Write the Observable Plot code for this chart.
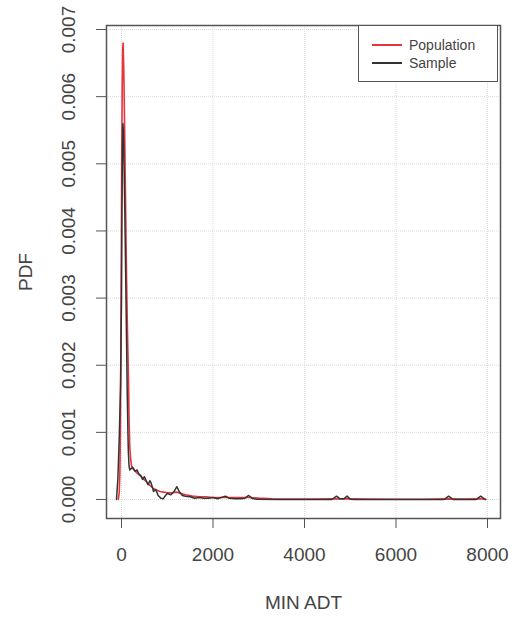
<!DOCTYPE html>
<html>
<head>
<meta charset="utf-8">
<script src="https://cdn.jsdelivr.net/npm/d3@7"></script>
<script src="https://cdn.jsdelivr.net/npm/@observablehq/plot@0.6"></script>
<style>
  html, body { margin: 0; padding: 0; background: #fff; }
  #wrap { position: relative; width: 515px; height: 618px; font-family: "Liberation Sans", Arial, sans-serif; }
  #legend { position: absolute; left: 358px; top: 25px; width: 140px; height: 57px; border: 1.5px solid #555; box-sizing: border-box; background: #fff; }
  .row { position: absolute; left: 13px; display: flex; align-items: center; font-size: 14px; color: #444; }
  .sw { display: inline-block; width: 30px; height: 2px; margin-right: 7px; }
</style>
</head>
<body>
<div id="wrap"></div>
<script>
// Population (red) density curve
const popX = [-70,-50,-35,-25,-15,-5,5,15,25,35,50,65,80,95,110,125,140,155,165,180,200,220,250,290,330,380,430,490,550,620,690,760,840,920,1000,1100,1200,1300,1400,1550,1700,1850,2000,2200,2400,2600,2800,3000,3300,3700,4200,4700,4950,5300,6000,6600,7150,7500,7850,7960];
const popY = [0,0.0001,0.0004,0.0010,0.0022,0.0036,0.0050,0.0061,0.0067,0.0068,0.0064,0.0057,0.0049,0.0041,0.0033,0.0027,0.0022,0.0017,0.0012,0.0008,0.0006,0.0005,0.00046,0.00043,0.0004,0.00037,0.00034,0.0003,0.00026,0.00021,0.00017,0.00014,0.00012,0.00011,0.0001,0.0001,0.00011,0.00009,0.00007,0.00005,0.00004,0.00004,0.00003,0.00003,0.00003,0.00003,0.00003,0.00002,0.00001,0.000005,0.000005,0.00001,0.00001,0.000005,0.000003,0.000003,0.00001,0.000005,0.00001,0];

// Sample (black) density curve
const sampX = [-110,-80,-50,-20,0,10,20,30,40,50,70,90,110,125,140,150,165,180,210,240,270,300,340,380,420,460,500,540,580,620,650,700,750,800,860,910,950,1000,1080,1150,1210,1260,1330,1400,1500,1600,1700,1800,1900,2000,2100,2270,2350,2500,2600,2700,2780,2850,2950,3500,4600,4700,4780,4860,4930,5000,5100,7050,7150,7250,7750,7850,7930,7960];
const sampY = [0,0.0003,0.0009,0.0017,0.0030,0.0043,0.0052,0.0056,0.0055,0.0052,0.0044,0.0034,0.0024,0.0016,0.0010,0.0007,0.0005,0.00044,0.00046,0.00048,0.00045,0.00042,0.00044,0.00038,0.00036,0.0003,0.00034,0.00028,0.00022,0.00028,0.00024,0.00012,0.00015,0.00006,0.00002,0.00001,0.00005,0.00009,0.00007,0.00012,0.00019,0.00012,0.00006,0.00005,0.00004,0.00002,0.00003,0.00002,0.00002,0.00003,0.00001,0.00005,0.00002,0.00001,0.00001,0.00002,0.00006,0.00002,0.000003,0,0,0.00005,0.00001,0.00001,0.00005,0.000005,0,0,0.00005,0,0,0.00005,0.00001,0];

const xTicks = [0, 2000, 4000, 6000, 8000];
const yTicks = [0, 0.001, 0.002, 0.003, 0.004, 0.005, 0.006, 0.007];
const seriesNames = ["Population", "Sample"];
const seriesColors = ["#e8353d", "#333333"];

const pop = popX.map((x, i) => ({x, y: popY[i]}));
const samp = sampX.map((x, i) => ({x, y: sampY[i]}));

const chart = Plot.plot({
  width: 515,
  height: 618,
  marginLeft: 106,
  marginRight: 15,
  marginTop: 25,
  marginBottom: 100,
  style: {fontFamily: "Liberation Sans, Arial, sans-serif", fontSize: "19px", color: "#444", background: "#fff"},
  x: {domain: [-328, 8284]},
  y: {domain: [-0.000283, 0.00706]},
  marks: [
    Plot.gridX(xTicks, {stroke: "#dcdcdc", strokeOpacity: 1, strokeDasharray: "1,1"}),
    Plot.gridY(yTicks, {stroke: "#dcdcdc", strokeOpacity: 1, strokeDasharray: "1,1"}),
    Plot.line(pop, {x: "x", y: "y", stroke: seriesColors[0], strokeWidth: 1.6}),
    Plot.line(samp, {x: "x", y: "y", stroke: seriesColors[1], strokeWidth: 1.5}),
    Plot.frame({stroke: "#555", strokeWidth: 1.5}),
    Plot.axisX({ticks: xTicks, tickSize: 10, tickPadding: 19, tickFormat: d3.format("d"),
      label: "MIN ADT", labelAnchor: "center", labelArrow: "none", labelOffset: 90, stroke: "#555"}),
    Plot.axisY({ticks: yTicks, tickSize: 10, tickRotate: -90, tickPadding: 22, tickFormat: d3.format(".3f"),
      label: "PDF", labelAnchor: "center", labelArrow: "none", labelOffset: 88, stroke: "#555"})
  ]
});

const wrap = document.getElementById("wrap");
wrap.appendChild(chart);

const legend = document.createElement("div");
legend.id = "legend";
seriesNames.forEach((name, i) => {
  const row = document.createElement("div");
  row.className = "row";
  row.style.top = (11 + i * 18) + "px";
  const sw = document.createElement("span");
  sw.className = "sw";
  sw.style.background = seriesColors[i];
  const t = document.createElement("span");
  t.textContent = name;
  row.appendChild(sw);
  row.appendChild(t);
  legend.appendChild(row);
});
wrap.appendChild(legend);
</script>
</body>
</html>
